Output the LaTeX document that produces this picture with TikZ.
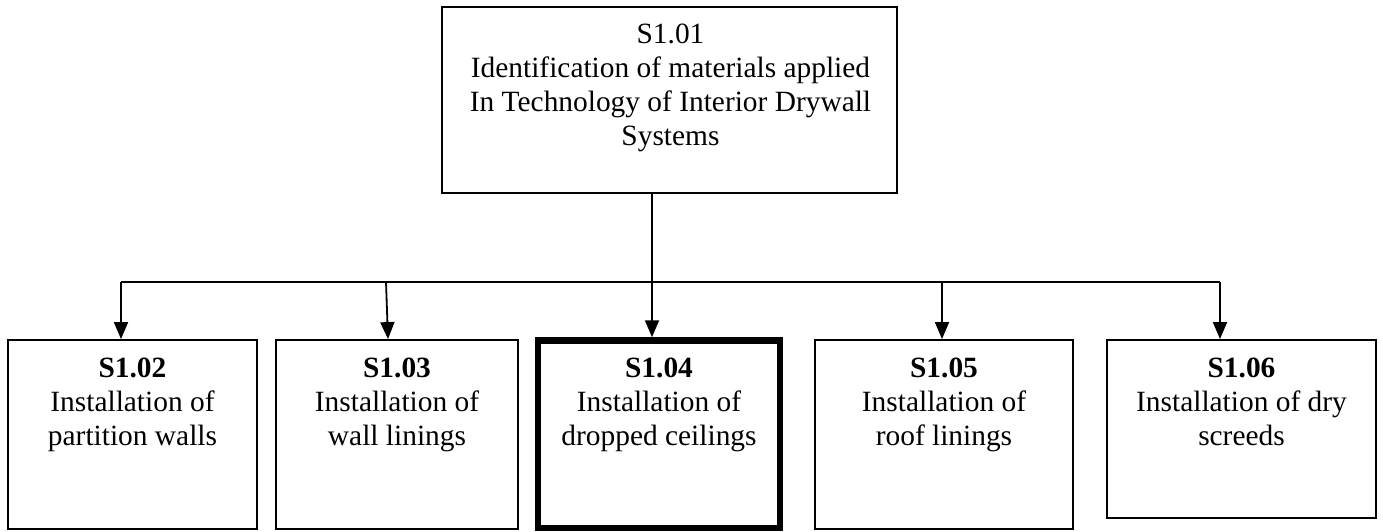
\documentclass[tikz,border=0pt]{standalone}
\usepackage{fontspec}
\setmainfont{Liberation Serif}
\usetikzlibrary{arrows.meta}
\begin{document}
\begin{tikzpicture}[x=1pt,y=-1pt,
  box/.style={draw=black,line width=1.8pt,rectangle,inner sep=0pt,fill=none},
  thickbox/.style={draw=black,line width=6.5pt,rectangle,inner sep=0pt},
  txt/.style={align=center,inner sep=0pt,font=\fontsize{29.4}{34}\selectfont},
  conn/.style={draw=black,line width=1.8pt},
  arr/.style={conn,-{Triangle[width=14pt,length=17pt]}}]
\useasboundingbox (0,0) rectangle (1383,531);
% boxes
\node[box,minimum width=455pt,minimum height=186pt] (t) at (669.5,100) {};
\node[box,minimum width=249pt,minimum height=189pt] (b2) at (132.5,434.5) {};
\node[box,minimum width=242pt,minimum height=189pt] (b3) at (397,434.5) {};
\node[thickbox,minimum width=242pt,minimum height=187.5pt] (b4) at (659,434.25) {};
\node[box,minimum width=258pt,minimum height=189pt] (b5) at (944,434.5) {};
\node[box,minimum width=269pt,minimum height=178pt] (b6) at (1241.5,429) {};
% texts
\node[txt,anchor=north] (lt) at ([xshift=1pt,yshift=-17.3pt]t.north) {S1.01\\Identification of materials applied\\In Technology of Interior Drywall\\Systems};
\node[txt,anchor=north] (l2) at ([yshift=-18.9pt]b2.north) {\textbf{S1.02}\\Installation of\\partition walls};
\node[txt,anchor=north] (l3) at ([yshift=-18.9pt]b3.north) {\textbf{S1.03}\\Installation of\\wall linings};
\node[txt,anchor=north] (l4) at ([yshift=-20.75pt]b4.north) {\textbf{S1.04}\\Installation of\\dropped ceilings};
\node[txt,anchor=north] (l5) at ([yshift=-18.9pt]b5.north) {\textbf{S1.05}\\Installation of\\roof linings};
\node[txt,anchor=north] (l6) at ([yshift=-18.9pt]b6.north) {\textbf{S1.06}\\Installation of dry\\screeds};
% bus coordinates
\coordinate (tap) at (652,282);
\coordinate (j2) at (121,282);
\coordinate (j3) at (386,282);
\coordinate (j5) at (942,282);
\coordinate (j6) at (1220,282);
\coordinate (e3) at (388,0);
% connectors
\draw[conn] (t.south -| tap) -- (tap);
\draw[conn] (j2) -- (j6);
\draw[arr] (j2) -- (b2.north -| j2);
\draw[arr] (j3) -- (b3.north -| e3);
\draw[arr] (tap) -- (b4.north -| tap);
\draw[arr] (j5) -- (b5.north -| j5);
\draw[arr] (j6) -- (b6.north -| j6);
\end{tikzpicture}
\end{document}
